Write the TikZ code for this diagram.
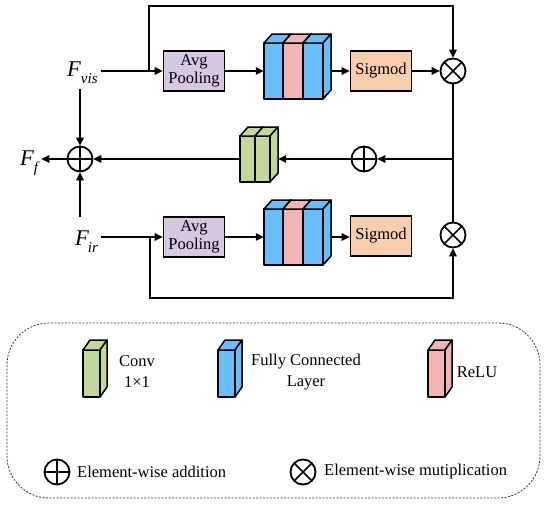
\documentclass[tikz,border=0pt]{standalone}
\usepackage{fontspec}
\setmainfont{Liberation Serif}
\usetikzlibrary{arrows.meta,calc}
\definecolor{cblue}{RGB}{105,190,250}
\definecolor{cpink}{RGB}{240,180,180}
\definecolor{cgreen}{RGB}{196,215,155}
\definecolor{cpurple}{RGB}{214,200,224}
\definecolor{cpeach}{RGB}{250,205,175}
\newcommand{\mycuboid}[7]{%
 \filldraw[blockline,fill=#7] (#1,#2) rectangle ({#1+#3},{#2+#4});
 \filldraw[blockline,fill=#7] (#1,#2) -- ({#1+#5},{#2-#6}) -- ({#1+#3+#5},{#2-#6}) -- ({#1+#3},#2) -- cycle;
 \filldraw[blockline,fill=#7] ({#1+#3},#2) -- ({#1+#3+#5},{#2-#6}) -- ({#1+#3+#5},{#2+#4-#6}) -- ({#1+#3},{#2+#4}) -- cycle;}
\newcommand{\Flabel}[2]{{\fontsize{22.5}{22.5}\selectfont\itshape F}\kern#2pt\raisebox{-7pt}{\fontsize{15}{15}\selectfont\itshape #1}}
\begin{document}
\begin{tikzpicture}[x=1pt,y=-1pt,
 blockline/.style={line width=1.5pt,line join=round,draw=black},
 conn/.style={line width=1.5pt},
 arr/.style={conn,-{Triangle[length=8pt,width=7.5pt]}},
 opbox/.style={draw,line width=1.8pt,minimum width=61pt,minimum height=40pt,inner sep=0pt,align=center,font=\fontsize{16.5}{18}\selectfont},
 opcirc/.style={draw,circle,line width=1.8pt,minimum size=25pt,inner sep=0pt},
 plusc/.style={opcirc,path picture={\draw[line width=1.5pt] (path picture bounding box.north)--(path picture bounding box.south) (path picture bounding box.west)--(path picture bounding box.east);}},
 timesc/.style={opcirc,path picture={\draw[line width=1.5pt] (path picture bounding box.north west)--(path picture bounding box.south east) (path picture bounding box.north east)--(path picture bounding box.south west);}},
 grp/.style={draw=none,inner sep=0pt},
 lbl/.style={font=\fontsize{16.5}{18}\selectfont,inner sep=0pt,align=center},
 flab/.style={inner sep=3pt}]
\useasboundingbox (0,0) rectangle (550,506);

% labels
\node[flab,anchor=base west] (fvis) at (64,76) {\Flabel{vis}{0}};
\node[flab,anchor=base west] (fir) at (72,245) {\Flabel{ir}{-1}};
\node[flab,anchor=base west] (ff) at (17,165) {\Flabel{f}{0}};

% top branch
\node[opbox,fill=cpurple] (poolA) at (194,71) {Avg\\Pooling};
\node[grp,minimum width=67pt,minimum height=56pt] (fcA) at (297.5,71) {};
\mycuboid{264}{43}{19}{56}{8}{9}{cblue}
\mycuboid{283}{43}{20}{56}{8}{9}{cpink}
\mycuboid{303}{43}{20}{56}{8}{9}{cblue}
\node[opbox,fill=cpeach] (sigA) at (381,71) {Sigmod};
\node[timesc] (mulA) at (453,71) {};

% bottom branch
\node[opbox,fill=cpurple] (poolB) at (194,237) {Avg\\Pooling};
\node[grp,minimum width=67pt,minimum height=56pt] (fcB) at (297.5,237) {};
\mycuboid{264}{209}{19}{56}{8}{9}{cblue}
\mycuboid{283}{209}{20}{56}{8}{9}{cpink}
\mycuboid{303}{209}{20}{56}{8}{9}{cblue}
\node[opbox,fill=cpeach] (sigB) at (381,236) {Sigmod};
\node[timesc] (mulB) at (453,235) {};

% middle row
\node[plusc] (plusM) at (80,159) {};
\node[plusc] (plusB) at (364,159) {};
\node[grp,minimum width=38pt,minimum height=46pt] (conv) at (259,159) {};
\mycuboid{240}{136}{15}{46}{8}{9}{cgreen}
\mycuboid{255}{136}{15}{46}{8}{9}{cgreen}

\coordinate (brA) at (149,71);
\coordinate (brB) at (150,237);
\coordinate (brC) at (453,159);

% connectors top
\draw[arr] (fvis.east |- poolA.west) -- (poolA.west);
\draw[arr] (brA) -- ++(0,-65) -| (mulA.north);
\draw[arr] (poolA.east) -- (fcA.west);
\draw[arr] (fcA.east) -- (sigA.west);
\draw[arr] (sigA.east) -- (mulA.west);
% connectors bottom
\draw[arr] (fir.east |- poolB.west) -- (poolB.west);
\draw[arr] (brB) -- ++(0,61) -| (mulB.south);
\draw[arr] (poolB.east) -- (fcB.west);
\draw[arr] (fcB.east) -- (fcB.east -| sigB.west);
% right merge
\draw[conn] (mulA.south) -- (mulB.north);
\draw[arr] (brC) -- (plusB.east);
\draw[arr] (plusB.west) -- (conv.east);
\draw[arr] (conv.west) -- (plusM.east);
\draw[arr] (plusM.west) -- (plusM.west -| ff.east);
\draw[arr,shorten <=3pt] (fvis.south -| plusM) -- (plusM.north);
\draw[arr,shorten <=10pt] (fir.north -| plusM) -- (plusM.south);

% legend
\draw[dash pattern=on 2pt off 1.5pt,line width=0.8pt,draw=black!80,rounded corners=42pt] (7,323) rectangle (540,498);
\mycuboid{83}{350}{17}{47}{7}{10}{cgreen}
\mycuboid{218}{350}{17}{47}{7}{10}{cblue}
\mycuboid{428}{350}{17}{47}{7}{10}{cpink}
\node[lbl] (lconv) at (137,372) {Conv\\[3pt]1×1};
\node[lbl] (lfc) at (306,372) {Fully Connected\\[3pt]Layer};
\node[lbl] (lrelu) at (477,372) {ReLU};
\node[plusc] (lplus) at (57,472) {};
\node[timesc] (ltimes) at (303,472) {};
\node[lbl,anchor=west] (ladd) at (77,472) {Element-wise addition};
\node[lbl,anchor=west] (lmul) at (324,472) {Element-wise mutiplication};
\end{tikzpicture}
\end{document}
